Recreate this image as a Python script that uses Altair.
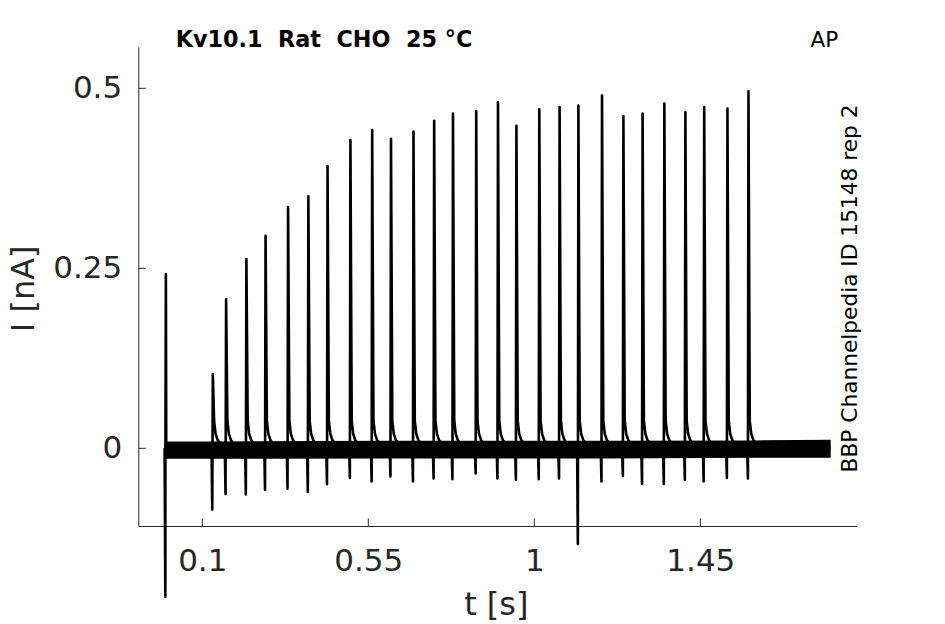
import altair as alt
import pandas as pd

# ---- data ----
SPIKE_T = [0.0008, 0.128, 0.164, 0.219, 0.271, 0.332, 0.387, 0.439, 0.501, 0.560,
           0.611, 0.672, 0.728, 0.779, 0.842, 0.901, 0.951, 1.013, 1.068, 1.119,
           1.183, 1.241, 1.293, 1.352, 1.409, 1.460, 1.523, 1.580]
SPIKE_PEAK = [0.242, 0.103, 0.207, 0.263, 0.295, 0.335, 0.350, 0.392, 0.428, 0.442,
              0.430, 0.440, 0.455, 0.465, 0.4685, 0.481, 0.448, 0.471, 0.474, 0.476,
              0.490, 0.4615, 0.465, 0.479, 0.467, 0.474, 0.472, 0.496]
SPIKE_TROUGH = [-0.206, -0.085, -0.0635, -0.064, -0.0575, -0.056, -0.0607, -0.050, -0.041, -0.046,
                -0.039, -0.046, -0.042, -0.043, -0.035, -0.042, -0.0436, -0.043, -0.042, -0.133,
                -0.046, -0.0385, -0.0496, -0.0496, -0.044, -0.046, -0.041, -0.042]
# decay tail after each spike (offset in s, current in nA)
TAIL_DT = [0.004, 0.008, 0.014, 0.024]
TAIL_I = [0.038, 0.02, 0.011, 0.005]
TRACE_START = 0.0
TRACE_END = 1.8035
# noisy baseline band
BAND_T = [0.0, 0.13, 0.6, 1.2, 1.6, 1.8035]
BAND_LO = [-0.0145, -0.0145, -0.014, -0.014, -0.013, -0.013]
BAND_HI = [0.0095, 0.0095, 0.0105, 0.0105, 0.011, 0.012]

X_TICKS = [0.1, 0.55, 1, 1.45]
Y_TICKS = [0, 0.25, 0.5]
X_DOMAIN = [-0.0735, 1.8739]
Y_DOMAIN = [-0.1079, 0.5578]

TITLE = "Kv10.1\u00a0\u00a0Rat\u00a0\u00a0CHO\u00a0\u00a025\u00a0°C"
CORNER = "AP"
SIDE = "BBP Channelpedia ID 15148 rep 2"

# ---- build the trace table ----
rows = [(TRACE_START, 0.0)]
for i, (t, pk, tr) in enumerate(zip(SPIKE_T, SPIKE_PEAK, SPIKE_TROUGH)):
    rows.append((t - 0.003, 0.0))
    rows.append((t - 0.001, tr))
    rows.append((t + 0.0005, pk))
    if i == 0:
        rows.append((t + 0.0015, 0.0))
    else:
        for dt, v in zip(TAIL_DT, TAIL_I):
            rows.append((t + dt, v))
rows.append((TRACE_END, 0.0))
trace = pd.DataFrame(rows, columns=["t", "I"]).sort_values("t", kind="stable")
trace["order"] = range(len(trace))

band = pd.DataFrame({"t": BAND_T, "lo": BAND_LO, "hi": BAND_HI})
xt = pd.DataFrame({"v": X_TICKS})
yt = pd.DataFrame({"v": Y_TICKS})

W, H = 718.4, 479.3
AX = "#262626"
FONT = "DejaVu Sans"

xscale = alt.Scale(domain=X_DOMAIN, nice=False, zero=False)
yscale = alt.Scale(domain=Y_DOMAIN, nice=False, zero=False)

xaxis = alt.Axis(values=X_TICKS, format=".3~g", ticks=False, labelPadding=20,
                 labelFontSize=31, labelFont=FONT, labelColor=AX,
                 title="t [s]", titleFontSize=32, titleFont=FONT, titleFontWeight="normal",
                 titleColor=AX, titleX=357.5, titleY=88, titleBaseline="alphabetic",
                 titleAlign="center", domainColor=AX, domainWidth=1, grid=False,
                 labelFlush=False, labelOverlap=False)
yaxis = alt.Axis(values=Y_TICKS, format=".3~g", ticks=False, labelPadding=16.6,
                 labelFontSize=31, labelFont=FONT, labelColor=AX,
                 title="I [nA]", titleFontSize=32, titleFont=FONT, titleFontWeight="normal",
                 titleColor=AX, titleAngle=270, titleX=-105, titleY=241.6,
                 titleBaseline="alphabetic", titleAlign="center",
                 domainColor=AX, domainWidth=1, grid=False, labelFlush=False,
                 labelOverlap=False)

band_layer = alt.Chart(band).mark_area(color="black", opacity=1).encode(
    x=alt.X("t:Q", scale=xscale, axis=xaxis),
    y=alt.Y("lo:Q", scale=yscale, axis=yaxis),
    y2="hi:Q",
)

line_layer = alt.Chart(trace).mark_line(color="black", strokeWidth=2.6,
                                        strokeJoin="round", clip=False).encode(
    x=alt.X("t:Q", scale=xscale),
    y=alt.Y("I:Q", scale=yscale),
    order="order:Q",
)

xtick_layer = alt.Chart(xt).mark_rule(color=AX, strokeWidth=1).encode(
    x=alt.X("v:Q", scale=xscale),
    y=alt.value(H),
    y2=alt.value(H - 7.5),
)
ytick_layer = alt.Chart(yt).mark_rule(color=AX, strokeWidth=1).encode(
    y=alt.Y("v:Q", scale=yscale),
    x=alt.value(0),
    x2=alt.value(7.5),
)

title_layer = alt.Chart(pd.DataFrame({"s": [TITLE]})).mark_text(
    font=FONT, fontSize=22.3, fontWeight="bold", color="black",
    align="left", baseline="alphabetic").encode(
    text="s:N", x=alt.value(37.4), y=alt.value(0))

corner_layer = alt.Chart(pd.DataFrame({"s": [CORNER]})).mark_text(
    font=FONT, fontSize=21.5, color="black",
    align="right", baseline="alphabetic").encode(
    text="s:N", x=alt.value(700), y=alt.value(0))

side_layer = alt.Chart(pd.DataFrame({"s": [SIDE]})).mark_text(
    font=FONT, fontSize=21.7, color="black", angle=270,
    align="center", baseline="alphabetic").encode(
    text="s:N", x=alt.value(718.2), y=alt.value(241.8))

chart = alt.layer(
    band_layer, line_layer, xtick_layer, ytick_layer,
    title_layer, corner_layer, side_layer,
).properties(
    width=W, height=H,
    autosize=alt.AutoSizeParams(type="none"),
    padding={"left": 130.3, "top": 38.7, "right": 80.3, "bottom": 96},
    background="white",
).configure_view(stroke=None)

chart.save("out.html", embed_options={"renderer": "svg", "actions": False})
